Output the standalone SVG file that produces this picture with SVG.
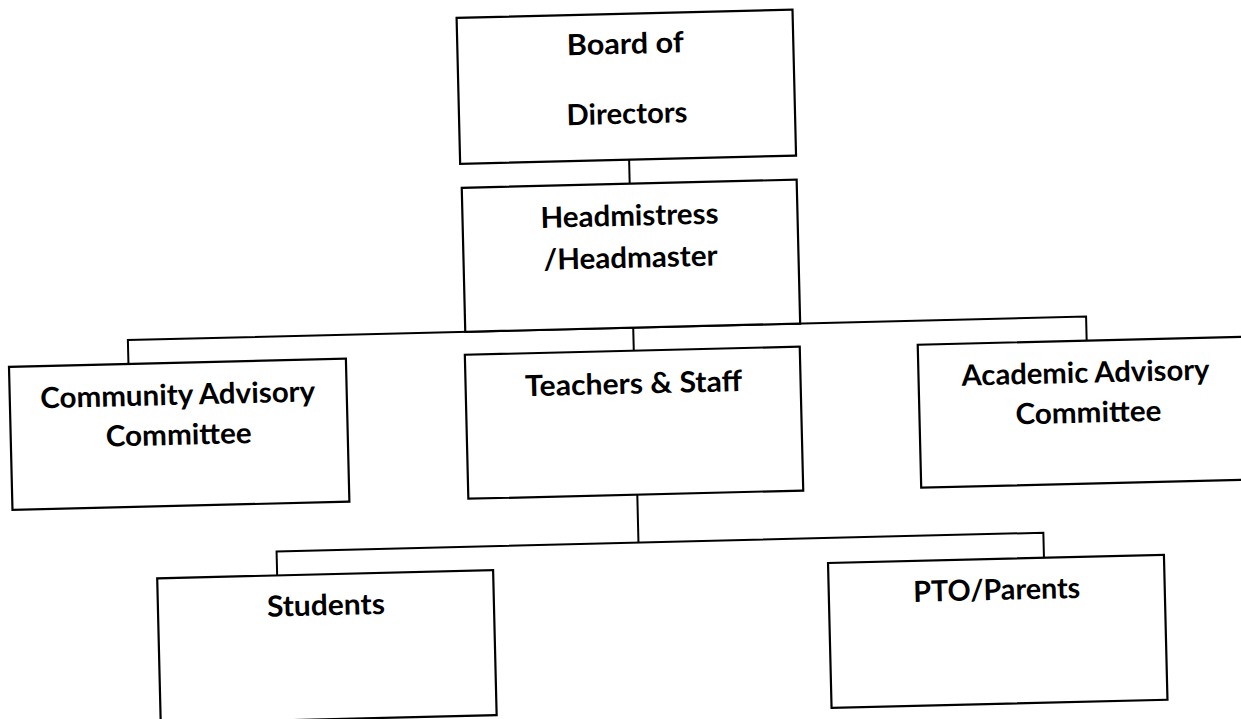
<svg xmlns="http://www.w3.org/2000/svg" width="1241" height="719" viewBox="0 0 1241 719">
<style>
.box{fill:#fff;stroke:#000;stroke-width:2.2}
.con{fill:none;stroke:#000;stroke-width:2}
.t{font-family:Lato,"Liberation Sans",sans-serif;font-weight:700;font-size:29px;fill:#000;text-anchor:middle}
</style>
<rect width="1241" height="719" fill="#fff"/>
<g transform="rotate(-1.4 620 360)">
<g id="connectors" class="con">
<line x1="634" y1="160" x2="634" y2="184"/>
<polyline points="128.5,352 128.5,328 1087,328 1087,352"/>
<line x1="634" y1="328" x2="634" y2="351"/>
<line x1="634" y1="495" x2="634" y2="543"/>
<polyline points="272,567 272,543 1039,543 1039,568"/>
</g>
<g id="board">
<rect class="box" x="465" y="14" width="336" height="146"/>
<text class="t" x="633" y="54" textLength="117" lengthAdjust="spacingAndGlyphs">Board of</text>
<text class="t" x="633" y="124" textLength="121" lengthAdjust="spacingAndGlyphs">Directors</text>
</g>
<g id="head">
<rect class="box" x="466" y="184" width="335" height="144"/>
<text class="t" x="633" y="226" textLength="178" lengthAdjust="spacingAndGlyphs">Headmistress</text>
<text class="t" x="633" y="268" textLength="174" lengthAdjust="spacingAndGlyphs">/Headmaster</text>
</g>
<g id="community">
<rect class="box" x="9" y="352" width="337" height="143"/>
<text class="t" x="177" y="394" textLength="275" lengthAdjust="spacingAndGlyphs">Community Advisory</text>
<text class="t" x="177" y="434" textLength="146" lengthAdjust="spacingAndGlyphs">Committee</text>
</g>
<g id="teachers">
<rect class="box" x="465" y="351" width="335" height="144"/>
<text class="t" x="633" y="394" textLength="217" lengthAdjust="spacingAndGlyphs">Teachers &amp; Staff</text>
</g>
<g id="academic">
<rect class="box" x="918" y="352" width="336" height="143"/>
<text class="t" x="1085" y="394" textLength="248" lengthAdjust="spacingAndGlyphs">Academic Advisory</text>
<text class="t" x="1087" y="434" textLength="146" lengthAdjust="spacingAndGlyphs">Committee</text>
</g>
<g id="students">
<rect class="box" x="152" y="567" width="336" height="145"/>
<text class="t" x="320" y="608" textLength="118" lengthAdjust="spacingAndGlyphs">Students</text>
</g>
<g id="pto">
<rect class="box" x="823" y="568" width="336" height="145"/>
<text class="t" x="991" y="609" textLength="167" lengthAdjust="spacingAndGlyphs">PTO/Parents</text>
</g>
</g>
</svg>
